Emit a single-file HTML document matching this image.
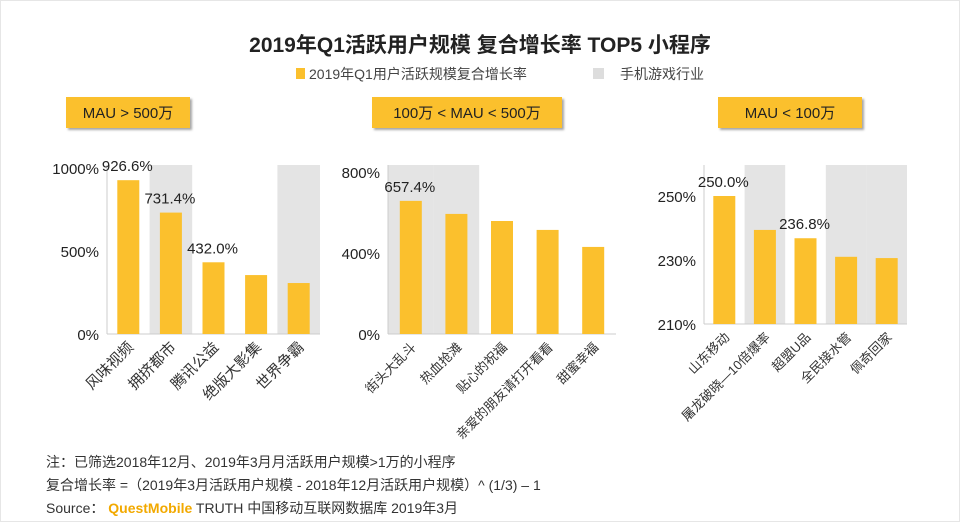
<!DOCTYPE html>
<html><head><meta charset="utf-8"><style>
body{margin:0;background:#fff;}
svg text{font-family:"Liberation Sans","Noto Sans CJK SC",sans-serif;}
</style></head><body>
<svg width="960" height="522" viewBox="0 0 960 522" xmlns="http://www.w3.org/2000/svg">
<rect x="0.5" y="0.5" width="959" height="521" fill="#fff" stroke="#e6e6e6"/>
<text x="480" y="52" text-anchor="middle" font-size="21" font-weight="bold" fill="#222">2019年Q1活跃用户规模 复合增长率 TOP5 小程序</text>
<g>
<rect x="296" y="68" width="9" height="11" fill="#FBC02D"/>
<text x="309" y="79" font-size="14" fill="#444">2019年Q1用户活跃规模复合增长率</text>
<rect x="593" y="68" width="11" height="11" fill="#ddd"/>
<text x="620" y="79" font-size="14" fill="#444">手机游戏行业</text>
</g>
<g id="panels"></g>
<g font-size="14" fill="#333">
<text x="46" y="467">注：已筛选2018年12月、2019年3月月活跃用户规模&gt;1万的小程序</text>
<text x="46" y="490">复合增长率 =（2019年3月活跃用户规模 - 2018年12月活跃用户规模）^ (1/3) – 1</text>
<text x="46" y="513">Source： <tspan fill="#F2A900" font-weight="bold">QuestMobile</tspan> TRUTH 中国移动互联网数据库 2019年3月</text>
</g>
</svg>
<script>
const p1Cats=["风味视频","拥挤都市","腾讯公益","绝版大影集","世界争霸"];
const p1Vals=[926.6,731.4,432.0,355,307];
const p1Labels=["926.6%","731.4%","432.0%","",""];
const p1Gray=[false,true,false,false,true];
const p1Ticks=[0,500,1000];
const p2Cats=["街头大乱斗","热血抢滩","贴心的祝福","亲爱的朋友请打开看看","甜蜜幸福"];
const p2Vals=[657.4,593,558,514,430];
const p2Labels=["657.4%","","","",""];
const p2Gray=[true,true,false,false,false];
const p2Ticks=[0,400,800];
const p3Cats=["山东移动","屠龙破晓—10倍爆率","超盟U品","全民接水管","佩奇回家"];
const p3Vals=[250.0,239.4,236.8,231,230.6];
const p3Labels=["250.0%","","236.8%","",""];
const p3Gray=[false,true,false,true,true];
const p3Ticks=[210,230,250];
const titles=["MAU > 500万","100万 < MAU < 500万","MAU < 100万"];
const NS="http://www.w3.org/2000/svg";
const root=document.getElementById('panels');
function mk(t,a,parent){const e=document.createElementNS(NS,t);for(const k in a)e.setAttribute(k,a[k]);(parent||root).appendChild(e);return e;}
function panel(idx,cats,vals,labels,gray,ticks,g){
  const y=v=>g.base-(v-g.min)/(g.max-g.min)*(g.base-g.top);
  const cw=(g.x1-g.x0)/cats.length;
  const grp=mk('g',{});
  
  
  const bx=mk('rect',{x:g.hx,y:97,width:g.hw,height:31,fill:'#FBC02D',style:'filter:drop-shadow(2px 2px 1px rgba(0,0,0,0.35))'},grp);
  
  
  const ht=mk('text',{x:g.hx+g.hw/2,y:118,'text-anchor':'middle','font-size':15,fill:'#222'},grp);ht.textContent=titles[idx];
  
  
  cats.forEach((c,i)=>{if(gray[i]){const r=mk('rect',{x:g.x0+i*cw,y:165,width:cw,height:g.base-165,fill:'#e4e4e4'},grp);
    
    }});
  mk('line',{x1:g.x0,y1:165,x2:g.x0,y2:g.base,stroke:'#ccc'},grp);
  const ax=mk('line',{x1:g.x0,y1:g.base,x2:g.x1,y2:g.base,stroke:'#ccc'},grp);
  
  
  ticks.forEach(t=>{const tx=mk('text',{x:g.x0-8,y:y(t)+6,'text-anchor':'end','font-size':15,fill:'#222'},grp);tx.textContent=t+'%';
    
    });
  cats.forEach((c,i)=>{
    const cx=g.x0+(i+0.5)*cw, bw=22;
    const b=mk('rect',{x:cx-bw/2,y:y(vals[i]),width:bw,height:g.base-y(vals[i]),fill:'#FBC02D'},grp);
    
    
    if(labels[i]){const l=mk('text',{x:cx-1,y:y(vals[i])-9,'text-anchor':'middle','font-size':15,fill:'#222'},grp);l.textContent=labels[i];
      
      }
    const ct=mk('text',{x:cx+6,y:g.base+14,'text-anchor':'end','font-size':g.fs,fill:'#333',transform:`rotate(-45 ${cx+6} ${g.base+14})`},grp);ct.textContent=c;
    
    
  });
}
panel(0,p1Cats,p1Vals,p1Labels,p1Gray,p1Ticks,{x0:107,x1:320,base:334,top:168,min:0,max:1000,hx:66,hw:124,fs:15});
panel(1,p2Cats,p2Vals,p2Labels,p2Gray,p2Ticks,{x0:388,x1:616,base:334,top:172,min:0,max:800,hx:372,hw:190,fs:13});
panel(2,p3Cats,p3Vals,p3Labels,p3Gray,p3Ticks,{x0:704,x1:907,base:324,top:196,min:210,max:250,hx:718,hw:144,fs:13});
</script>
</body></html>
